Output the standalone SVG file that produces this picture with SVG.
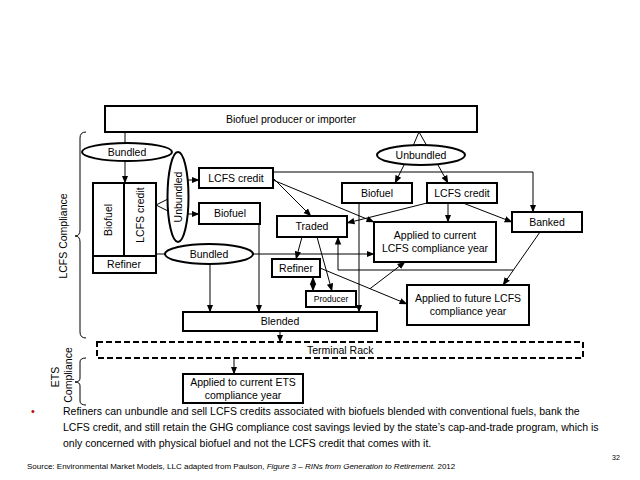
<svg xmlns="http://www.w3.org/2000/svg" width="640" height="480" viewBox="0 0 640 480">
<style>
text{font-family:"Liberation Sans",Arial,sans-serif;fill:#000}
.t{font-size:10.5px;text-anchor:middle}
.box{fill:#fff;stroke:#000;stroke-width:2}
.ell{fill:#fff;stroke:#000;stroke-width:2}
.ln{fill:none;stroke:#000;stroke-width:1}
.ar{fill:none;stroke:#000;stroke-width:1;marker-end:url(#ah)}
.br{fill:none;stroke:#000;stroke-width:1}
.note{font-size:10.5px}
</style>
<defs>
<marker id="ah" markerUnits="userSpaceOnUse" markerWidth="8" markerHeight="8" viewBox="0 0 8 8" refX="7.5" refY="4" orient="auto">
<path d="M0,0.8 L8,4 L0,7.2 Z" fill="#000"/>
</marker>
<marker id="ahs" markerUnits="userSpaceOnUse" markerWidth="8" markerHeight="8" viewBox="0 0 8 8" refX="0.5" refY="4" orient="auto">
<path d="M8,0.8 L0,4 L8,7.2 Z" fill="#000"/>
</marker>
</defs>
<rect width="640" height="480" fill="#fff"/>

<g id="connectors">
<line class="ln" x1="125" y1="132" x2="125" y2="145"/>
<line class="ar" x1="125" y1="160" x2="125" y2="183"/>
<line class="ln" x1="156" y1="205" x2="168" y2="199"/>
<line class="ln" x1="156" y1="205" x2="168" y2="211"/>
<line class="ar" x1="188" y1="180" x2="199" y2="180"/>
<line class="ar" x1="188" y1="214" x2="199" y2="214"/>
<line class="ln" x1="156" y1="254" x2="165" y2="254"/>
<line class="ar" x1="253" y1="254" x2="374" y2="254"/>
<line class="ar" x1="210" y1="264" x2="210" y2="312"/>
<line class="ar" x1="259" y1="224" x2="259" y2="312"/>
<polyline class="ar" points="273,172 533,172 533,212"/>
<line class="ar" x1="273" y1="178" x2="311" y2="216"/>
<line class="ar" x1="273" y1="180" x2="374" y2="222"/>
<line class="ln" x1="419" y1="132" x2="413" y2="146"/>
<line class="ln" x1="419" y1="132" x2="427" y2="146"/>
<line class="ar" x1="404" y1="165" x2="395" y2="183"/>
<line class="ar" x1="438" y1="165" x2="448" y2="183"/>
<line class="ar" x1="359" y1="203" x2="359" y2="312"/>
<line class="ar" x1="427" y1="203" x2="347" y2="223"/>
<line class="ar" x1="448" y1="203" x2="448" y2="222"/>
<line class="ar" x1="463" y1="203" x2="512" y2="222"/>
<line class="ar" x1="540" y1="232" x2="503" y2="285"/>
<polyline class="ar" points="513.5,270 338,270 338,237"/>
<line class="ar" x1="302" y1="237" x2="296" y2="259"/>
<line class="ar" x1="317" y1="237" x2="332" y2="291"/>
<line class="ar" x1="313" y1="277" x2="313" y2="291" style="marker-start:url(#ahs)"/>
<line class="ar" x1="320" y1="268" x2="407" y2="304"/>
<line class="ar" x1="370" y1="288.7" x2="405" y2="262"/>
<line class="ar" x1="280" y1="331" x2="280" y2="342"/>
<line class="ar" x1="234" y1="358" x2="234" y2="374"/>
</g>

<g id="producer-importer">
<rect class="box" x="105" y="106" width="372" height="26"/>
<text class="t" x="291" y="123">Biofuel producer or importer</text>
</g>

<g id="bundled-top">
<ellipse class="ell" cx="127" cy="152" rx="45" ry="9"/>
<text class="t" x="127" y="156">Bundled</text>
</g>

<g id="refiner-left">
<rect class="box" x="93" y="183" width="63" height="90"/>
<line class="ln" x1="124" y1="183" x2="124" y2="256" style="stroke-width:2"/>
<line class="ln" x1="93" y1="256" x2="156" y2="256" style="stroke-width:2"/>
<text class="t" x="124" y="268">Refiner</text>
<text class="t" transform="translate(112,220) rotate(-90)">Biofuel</text>
<text class="t" transform="translate(144,215) rotate(-90)">LCFS credit</text>
</g>

<g id="unbundled-left">
<ellipse class="ell" cx="178" cy="197" rx="10.5" ry="45"/>
<text class="t" transform="translate(182,197) rotate(-90)">Unbundled</text>
</g>

<g id="lcfs-credit-mid">
<rect class="box" x="199" y="168" width="74" height="20"/>
<text class="t" x="236" y="182">LCFS credit</text>
</g>

<g id="biofuel-mid">
<rect class="box" x="199" y="203" width="61" height="21"/>
<text class="t" x="230" y="217">Biofuel</text>
</g>

<g id="bundled-lower">
<ellipse class="ell" cx="209" cy="254" rx="44" ry="10"/>
<text class="t" x="209" y="258">Bundled</text>
</g>

<g id="traded">
<rect class="box" x="277" y="216" width="70" height="21"/>
<text class="t" x="312" y="230">Traded</text>
</g>

<g id="refiner-mid">
<rect class="box" x="272" y="259" width="48" height="18"/>
<text class="t" x="296" y="272">Refiner</text>
</g>

<g id="producer">
<rect class="box" x="306" y="291" width="50" height="16"/>
<text class="t" x="331" y="302" style="font-size:8.5px">Producer</text>
</g>

<g id="unbundled-right">
<ellipse class="ell" cx="421" cy="155" rx="44" ry="10"/>
<text class="t" x="421" y="159">Unbundled</text>
</g>

<g id="biofuel-right">
<rect class="box" x="342" y="183" width="70" height="20"/>
<text class="t" x="377" y="197">Biofuel</text>
</g>

<g id="lcfs-credit-right">
<rect class="box" x="427" y="183" width="70" height="20"/>
<text class="t" x="462" y="197">LCFS credit</text>
</g>

<g id="banked">
<rect class="box" x="512" y="212" width="70" height="20"/>
<text class="t" x="547" y="226">Banked</text>
</g>

<g id="applied-current-lcfs">
<rect class="box" x="374" y="222" width="122" height="40"/>
<text class="t" x="435" y="239">Applied to current</text>
<text class="t" x="435" y="252">LCFS compliance year</text>
</g>

<g id="applied-future-lcfs">
<rect class="box" x="407" y="285" width="122" height="40"/>
<text class="t" x="468" y="302">Applied to future LCFS</text>
<text class="t" x="468" y="315">compliance year</text>
</g>

<g id="blended">
<rect class="box" x="183" y="312" width="194" height="19"/>
<text class="t" x="280" y="325">Blended</text>
</g>

<g id="terminal-rack">
<rect x="97" y="342" width="486" height="16" fill="#fff" stroke="#000" stroke-width="2" stroke-dasharray="6,3"/>
<text x="307" y="354" style="font-size:10.5px">Terminal Rack</text>
</g>

<g id="applied-current-ets">
<rect class="box" x="183" y="374" width="120" height="29"/>
<text class="t" x="243" y="386">Applied to current ETS</text>
<text class="t" x="243" y="399">compliance year</text>
</g>

<g id="braces">
<path class="br" d="M86,132 Q80,132 80,138 L80,230 Q80,236 75,236 Q80,236 80,242 L80,332 Q80,338 86,338"/>
<text class="t" transform="translate(67,236) rotate(-90)">LCFS Compliance</text>
<path class="br" d="M86,358 Q80,358 80,362 L80,378 Q80,382 75,382 Q80,382 80,386 L80,401 Q80,405 86,405"/>
<text class="t" transform="translate(59,377) rotate(-90)">ETS</text>
<text class="t" transform="translate(72,375) rotate(-90)">Compliance</text>
</g>

<g id="notes">
<text x="31" y="415" style="font-size:11px;fill:#c00000">•</text>
<text class="note" x="63" y="415">Refiners can unbundle and sell LCFS credits associated with biofuels blended with conventional fuels, bank the</text>
<text class="note" x="63" y="431">LCFS credit, and still retain the GHG compliance cost savings levied by the state’s cap-and-trade program, which is</text>
<text class="note" x="63" y="447">only concerned with physical biofuel and not the LCFS credit that comes with it.</text>
<text x="27" y="469" style="font-size:8px">Source: Environmental Market Models, LLC adapted from Paulson, <tspan font-style="italic">Figure 3 – RINs from Generation to Retirement.</tspan> 2012</text>
<text x="612" y="460" style="font-size:7px">32</text>
</g>
</svg>
